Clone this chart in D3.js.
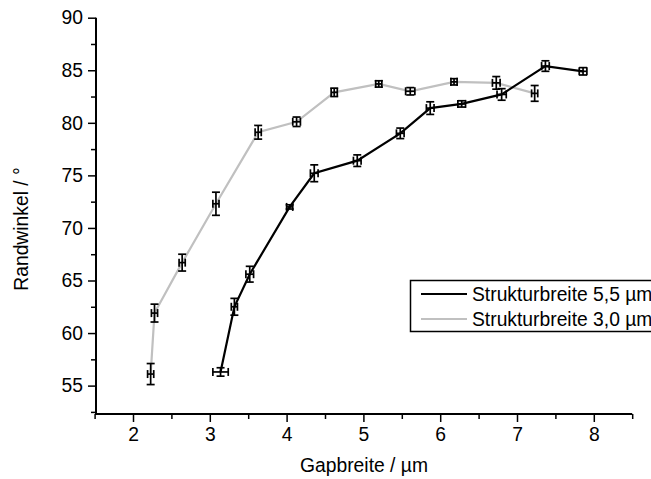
<!DOCTYPE html>
<html><head><meta charset="utf-8">
<script src="https://cdn.jsdelivr.net/npm/d3@7"></script>
<style>body{margin:0;background:#fff}svg{display:block}text{font-family:"Liberation Sans",Arial,sans-serif}</style>
</head><body><div id="chart"></div>
<script>
const seriesNames = ["Strukturbreite 5,5 µm", "Strukturbreite 3,0 µm"];
const blackX   = [3.14, 3.32, 3.52, 4.04, 4.36, 4.92, 5.48, 5.87, 6.28, 6.80, 7.37, 7.86];
const blackY   = [56.3, 62.5, 65.6, 72.0, 75.2, 76.4, 79.0, 81.4, 81.8, 82.7, 85.4, 84.9];
const blackXErr= [0.10, 0.04, 0.05, 0.04, 0.05, 0.05, 0.05, 0.05, 0.05, 0.06, 0.05, 0.05];
const blackYErr= [0.4, 0.8, 0.75, 0.2, 0.8, 0.55, 0.5, 0.6, 0.3, 0.55, 0.5, 0.35];
const grayX    = [2.23, 2.28, 2.64, 3.08, 3.63, 4.13, 4.62, 5.20, 5.61, 6.18, 6.73, 7.23];
const grayY    = [56.1, 61.9, 66.7, 72.3, 79.1, 80.1, 82.9, 83.7, 83.0, 83.9, 83.8, 82.8];
const grayXErr = [0.04, 0.04, 0.04, 0.04, 0.04, 0.05, 0.04, 0.04, 0.06, 0.04, 0.05, 0.04];
const grayYErr = [1.0, 0.85, 0.8, 1.1, 0.65, 0.45, 0.4, 0.3, 0.35, 0.3, 0.6, 0.75];
const xTicks = [2, 3, 4, 5, 6, 7, 8];
const yTicks = [55, 60, 65, 70, 75, 80, 85, 90];
const xTitle = "Gapbreite / µm";
const yTitle = "Randwinkel / °";

const FS = 19.3;
const W = 651, H = 479;
const svg = d3.select("#chart").append("svg").attr("width", W).attr("height", H);
const x = d3.scaleLinear().domain([1.5, 8.5]).range([94.6, 632.2]);
const y = d3.scaleLinear().domain([52.3, 90]).range([414, 17.7]);
const x0 = 96, y0 = 414;

const xAxis = d3.axisBottom(x).tickValues(xTicks).tickSize(8).tickPadding(5).tickFormat(d3.format("d"));
const xMinor = d3.axisBottom(x).tickValues(d3.range(1.5, 8.51, 1)).tickSize(5).tickFormat("");
const yAxis = d3.axisLeft(y).tickValues(yTicks).tickSize(8).tickPadding(5).tickFormat(d3.format("d"));
const yMinor = d3.axisLeft(y).tickValues([52.5, 57.5, 62.5, 67.5, 72.5, 77.5, 82.5, 87.5]).tickSize(5).tickFormat("");

function style(g){
  g.select(".domain").remove();
  g.selectAll("line").attr("stroke", "#000").attr("stroke-width", 1.5);
  g.selectAll("text").attr("font-size", FS).attr("fill", "#000").attr("font-family", '"Liberation Sans", Arial, sans-serif');
}
svg.append("g").attr("transform", `translate(0,${y0})`).call(xAxis).call(style);
svg.append("g").attr("transform", `translate(0,${y0})`).call(xMinor).call(style);
svg.append("g").attr("transform", `translate(${x0},0)`).call(yAxis).call(style);
svg.append("g").attr("transform", `translate(${x0},0)`).call(yMinor).call(style);
svg.append("line").attr("x1", x0).attr("x2", x0).attr("y1", y(90)).attr("y2", y0).attr("stroke", "#000").attr("stroke-width", 2);
svg.append("line").attr("x1", x0 - 1).attr("x2", x(8.5)).attr("y1", y0).attr("y2", y0).attr("stroke", "#000").attr("stroke-width", 2);

svg.append("text").attr("x", 364).attr("y", 472).attr("text-anchor", "middle").attr("font-size", FS).text(xTitle);
svg.append("text").attr("transform", `translate(28,229) rotate(-90)`).attr("text-anchor", "middle").attr("font-size", FS).text(yTitle);

const line = d3.line().x(d => x(d.x)).y(d => y(d.y));
function series(xs, ys, xe, ye, color){
  const data = xs.map((v, i) => ({x: v, y: ys[i], xe: xe[i], ye: ye[i]}));
  svg.append("path").datum(data).attr("d", line).attr("fill", "none").attr("stroke", color).attr("stroke-width", 2.2);
  return data;
}
function errbars(data){
  const g = svg.append("g").attr("stroke", "#000").attr("stroke-width", 1.7).attr("fill", "none");
  const c = 4;
  data.forEach(d => {
    const cx = x(d.x), cy = y(d.y);
    const yt = y(d.y + d.ye), yb = y(d.y - d.ye);
    const xl = x(d.x - d.xe), xr = x(d.x + d.xe);
    g.append("line").attr("x1", cx).attr("x2", cx).attr("y1", yt).attr("y2", yb);
    g.append("line").attr("x1", cx - c).attr("x2", cx + c).attr("y1", yt).attr("y2", yt);
    g.append("line").attr("x1", cx - c).attr("x2", cx + c).attr("y1", yb).attr("y2", yb);
    g.append("line").attr("x1", xl).attr("x2", xr).attr("y1", cy).attr("y2", cy);
    g.append("line").attr("x1", xl).attr("x2", xl).attr("y1", cy - c).attr("y2", cy + c);
    g.append("line").attr("x1", xr).attr("x2", xr).attr("y1", cy - c).attr("y2", cy + c);
  });
}
const gd = series(grayX, grayY, grayXErr, grayYErr, "#c0c0c0");
const bd = series(blackX, blackY, blackXErr, blackYErr, "#000");
errbars(gd);
errbars(bd);

const lg = svg.append("g");
lg.append("rect").attr("x", 410.5).attr("y", 280.5).attr("width", 260).attr("height", 51).attr("fill", "#fff").attr("stroke", "#000").attr("stroke-width", 1.5);
[["#000", 0], ["#c0c0c0", 1]].forEach(([col, i]) => {
  const yy = 294 + i * 25;
  lg.append("line").attr("x1", 421).attr("x2", 467).attr("y1", yy).attr("y2", yy).attr("stroke", col).attr("stroke-width", 2);
  lg.append("text").attr("x", 472).attr("y", yy + 6.5).attr("font-size", FS).text(seriesNames[i]);
});
</script></body></html>
